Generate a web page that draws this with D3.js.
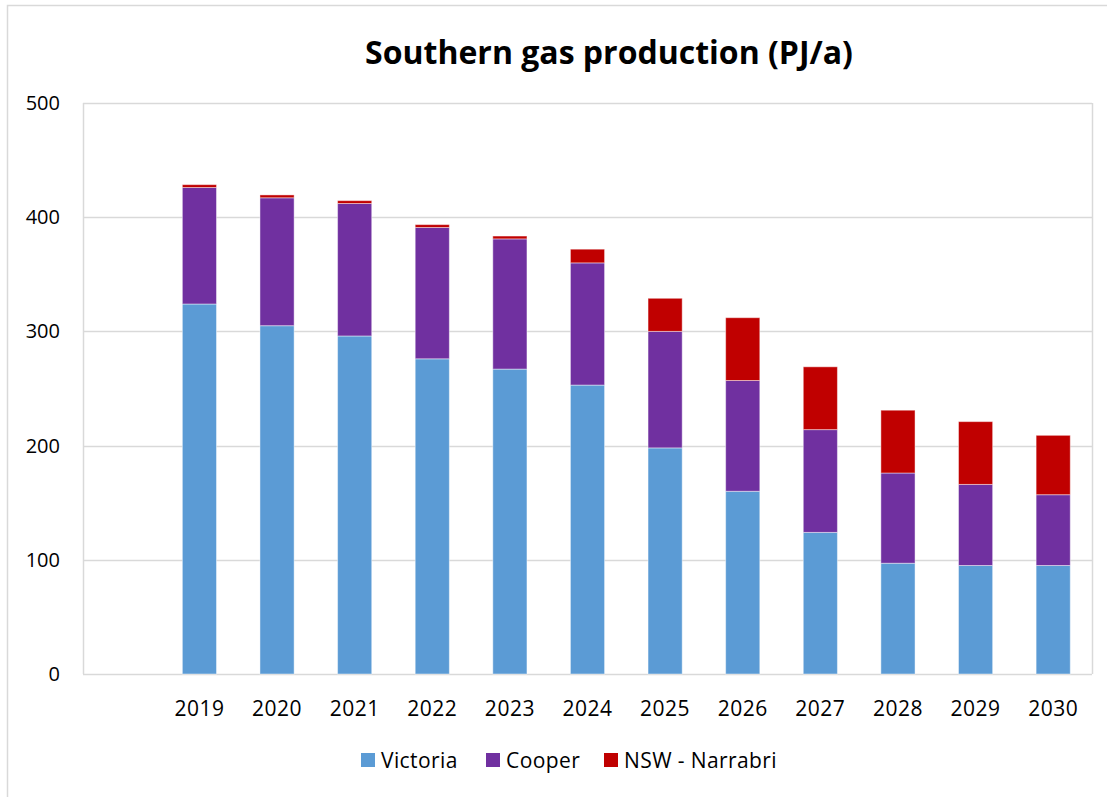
<!DOCTYPE html>
<html>
<head>
<meta charset="utf-8">
<script src="https://cdn.jsdelivr.net/npm/d3@7"></script>
<style>
  body { margin: 0; background: #fff; }
  text { font-family: "Open Sans", "Liberation Sans", sans-serif; fill: #000; }
</style>
</head>
<body>
<svg id="chart" width="1107" height="797"></svg>
<script>
// first slot is an empty category in the source chart
const years = ['', '2019', '2020', '2021', '2022', '2023', '2024', '2025', '2026', '2027', '2028', '2029', '2030'];
const victoria = [null, 324, 305, 296, 276, 267, 253, 198, 160, 124, 97, 95, 95];
const cooper = [null, 102, 112, 116, 115, 114, 107, 102, 97, 90, 79, 71, 62];
const narrabri = [null, 2.5, 2.5, 2.5, 2.5, 2.5, 12, 29, 55, 55, 55, 55, 52];
const seriesNames = ['Victoria', 'Cooper', 'NSW - Narrabri'];
const colors = ['#5B9BD5', '#7030A0', '#C00000'];
const yTicks = [0, 100, 200, 300, 400, 500];

const svg = d3.select('#chart');
const plotLeft = 83, plotRight = 1092, plotTop = 103, plotBottom = 674;

// outer chart border
svg.append('rect')
  .attr('x', 7.5).attr('y', 5.5)
  .attr('width', 1120).attr('height', 820)
  .attr('fill', 'none')
  .attr('stroke', '#d9d9d9')
  .attr('stroke-width', 1.5);

const rows = years.map((yr, i) => ({
  year: yr,
  'Victoria': victoria[i] || 0,
  'Cooper': cooper[i] || 0,
  'NSW - Narrabri': narrabri[i] || 0
}));
const stacked = d3.stack().keys(seriesNames)(rows);

const x = d3.scaleBand()
  .domain(years)
  .range([plotLeft, plotRight])
  .paddingInner(0.56)
  .paddingOuter(0.28);

const y = d3.scaleLinear()
  .domain([0, 500])
  .range([plotBottom, plotTop]);

// gridlines
svg.append('g')
  .selectAll('line')
  .data(yTicks)
  .enter().append('line')
  .attr('x1', plotLeft).attr('x2', plotRight)
  .attr('y1', d => Math.round(y(d)) + 0.5)
  .attr('y2', d => Math.round(y(d)) + 0.5)
  .attr('stroke', '#d9d9d9')
  .attr('stroke-width', 1.5);

// plot area sides
[plotLeft, plotRight].forEach(px => {
  svg.append('line')
    .attr('x1', px + 0.5).attr('x2', px + 0.5)
    .attr('y1', plotTop).attr('y2', plotBottom)
    .attr('stroke', '#d9d9d9')
    .attr('stroke-width', 1.5);
});

// bars
svg.append('g')
  .selectAll('g')
  .data(stacked)
  .enter().append('g')
  .attr('fill', (d, i) => colors[i])
  .selectAll('rect')
  .data(d => d.filter(p => p.data.year !== ''))
  .enter().append('rect')
  .attr('x', d => x(d.data.year))
  .attr('width', x.bandwidth())
  .attr('y', d => y(d[1]))
  .attr('height', d => y(d[0]) - y(d[1]))
  .attr('stroke', 'rgba(255,255,255,0.45)')
  .attr('stroke-width', 1);

// y axis labels
const yAxis = svg.append('g')
  .attr('transform', `translate(${plotLeft},0)`)
  .call(d3.axisLeft(y).tickValues(yTicks).tickSize(0).tickPadding(23));
yAxis.select('.domain').remove();
yAxis.selectAll('text')
  .attr('font-size', 20)
  .attr('font-family', '"Open Sans", sans-serif');

// x axis labels
const xAxis = svg.append('g')
  .attr('transform', `translate(0,${plotBottom})`)
  .call(d3.axisBottom(x).tickSize(0).tickPadding(27));
xAxis.select('.domain').remove();
xAxis.selectAll('text')
  .attr('font-size', 21)
  .attr('letter-spacing', 0.5)
  .attr('font-family', '"Open Sans", sans-serif');

// title
svg.append('text')
  .attr('x', 609)
  .attr('y', 64)
  .attr('text-anchor', 'middle')
  .attr('font-size', 32)
  .attr('font-weight', 'bold')
  .text('Southern gas production (PJ/a)');

// legend
const legendX = [361, 486, 604];
const legend = svg.append('g')
  .selectAll('g')
  .data(seriesNames)
  .enter().append('g')
  .attr('transform', (d, i) => `translate(${legendX[i]},753)`);
legend.append('rect')
  .attr('width', 14).attr('height', 14)
  .attr('fill', (d, i) => colors[i]);
legend.append('text')
  .attr('x', 20)
  .attr('y', 15)
  .attr('font-size', 21)
  .attr('letter-spacing', 0.4)
  .text(d => d);
</script>
</body>
</html>
